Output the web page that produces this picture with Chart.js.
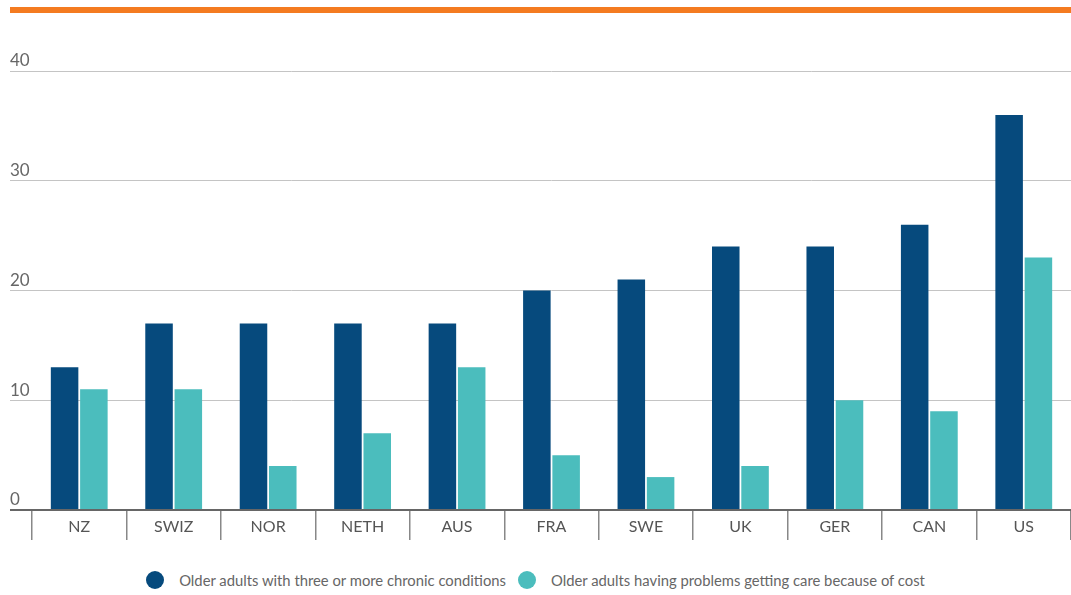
<!DOCTYPE html>
<html>
<head>
<meta charset="utf-8">
<script src="https://cdn.jsdelivr.net/npm/chart.js@4"></script>
<style>
    body { margin: 0; background: #fff; font-family: Lato, 'Open Sans', sans-serif; }
    .wrap { position: relative; width: 1071px; height: 595px; overflow: hidden; }
    .topbar { position: absolute; left: 10px; right: 0; top: 7px; height: 6px; background: #f47b20; }
    #barChart { position: absolute; left: 0; top: 0; }
    .legend { position: absolute; left: 0; right: 0; top: 571px; display: flex; justify-content: center; align-items: center; font-size: 14.8px; color: #666; }
    .legend .item { display: flex; align-items: center; margin: 0 6px; }
    .legend .dot { width: 18px; height: 18px; border-radius: 50%; margin-right: 15px; }
</style>
</head>
<body>
<div class="wrap">
    <div class="topbar"></div>
    <canvas id="barChart" width="1071" height="560"></canvas>
    <div class="legend" id="legend"></div>
</div>
<script>
// Data
const countries = ['NZ', 'SWIZ', 'NOR', 'NETH', 'AUS', 'FRA', 'SWE', 'UK', 'GER', 'CAN', 'US'];
const chronicConditions = [13, 17, 17, 17, 17, 20, 21, 24, 24, 26, 36];
const costProblems = [11, 11, 4, 7, 13, 5, 3, 4, 10, 9, 23];
const yTicks = [0, 10, 20, 30, 40];
const seriesNames = ['Older adults with three or more chronic conditions', 'Older adults having problems getting care because of cost'];
const seriesColors = ['#064a7d', '#4bbdbd'];

const ctx = document.getElementById('barChart').getContext('2d');
new Chart(ctx, {
    type: 'bar',
    data: {
        labels: countries,
        datasets: [
            {
                label: seriesNames[0],
                data: chronicConditions,
                backgroundColor: seriesColors[0],
                borderWidth: 0,
                categoryPercentage: 0.62,
                barPercentage: 0.94
            },
            {
                label: seriesNames[1],
                data: costProblems,
                backgroundColor: seriesColors[1],
                borderWidth: 0,
                categoryPercentage: 0.62,
                barPercentage: 0.94
            }
        ]
    },
    options: {
        responsive: false,
        animation: false,
        layout: {
            padding: { left: 10, top: 71, right: 0, bottom: 0 }
        },
        plugins: {
            legend: { display: false },
            tooltip: { enabled: false }
        },
        scales: {
            x: {
                afterFit: (scale) => { scale.height = 50; },
                grid: {
                    offset: true,
                    drawOnChartArea: false,
                    drawTicks: true,
                    tickLength: 30,
                    color: '#888',
                    lineWidth: 1.5
                },
                border: { display: false },
                ticks: {
                    padding: -23,
                    color: '#555',
                    font: { family: 'Lato', size: 16 }
                }
            },
            y: {
                min: 0,
                max: 40,
                afterFit: (scale) => { scale.width = 22; },
                afterBuildTicks: (scale) => {
                    scale.ticks = yTicks.map(v => ({ value: v }));
                },
                border: { display: false },
                grid: {
                    tickLength: 22,
                    color: (c) => c.tick && c.tick.value === 0 ? '#666' : '#c4c4c4',
                    lineWidth: (c) => c.tick && c.tick.value === 0 ? 2 : 1
                },
                ticks: {
                    crossAlign: 'far',
                    padding: 0,
                    labelOffset: -10,
                    color: '#666',
                    font: { family: 'Lato', size: 17 }
                }
            }
        }
    }
});

// Legend
const legend = document.getElementById('legend');
seriesNames.forEach((name, i) => {
    const item = document.createElement('div');
    item.className = 'item';
    const dot = document.createElement('span');
    dot.className = 'dot';
    dot.style.background = seriesColors[i];
    const text = document.createElement('span');
    text.textContent = name;
    item.appendChild(dot);
    item.appendChild(text);
    legend.appendChild(item);
});
</script>
</body>
</html>
